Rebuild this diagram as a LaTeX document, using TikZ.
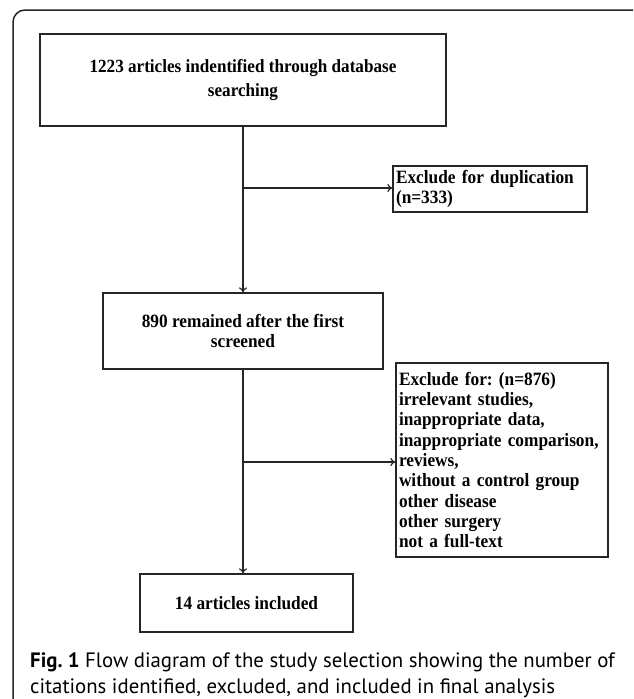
\documentclass[tikz,border=0pt]{standalone}
\usepackage{fontspec}
\setmainfont{Liberation Serif}
\newfontfamily\boxfont[FakeStretch=0.92]{Liberation Serif}
\newfontfamily\capfont{PT Sans}
\usetikzlibrary{arrows.meta}
\hyphenpenalty=10000
\exhyphenpenalty=10000
\frenchspacing
\tikzset{
  box/.style={draw=black!85, line width=1.3pt, rectangle, inner sep=0pt, font=\boxfont\bfseries\fontsize{18.8}{20.3}\selectfont},
  exbox/.style={box, align=left},
  arr/.style={draw=black!85, line width=1.2pt, -{To[length=5pt,width=8pt]}},
}
\begin{document}
\begin{tikzpicture}[x=1pt,y=-1pt]
\useasboundingbox (0,0) rectangle (633,699);
\begin{scope}
\clip (0,0) rectangle (633,699);
\draw[line width=1.5pt, black!85, rounded corners=12pt] (13,10) rectangle (648,740);
\end{scope}
% main boxes
\node[box, minimum width=406pt, minimum height=92pt, align=center, font=\boxfont\bfseries\fontsize{18.6}{24}\selectfont] (b1) at (243,80) {1223 articles indentified through database\\searching};
\node[box, minimum width=280pt, minimum height=76pt, align=center, font=\boxfont\bfseries\fontsize{18.8}{20.5}\selectfont] (b2) at (243,331) {890 remained after the first\\screened};
\node[box, minimum width=213pt, minimum height=58pt, align=center] (b3) at (246.5,603) {14 articles included};
% exclusion boxes
\node[exbox, minimum width=194pt, minimum height=46pt, text width=188pt] (e1) at (490,189) {Exclude for duplication\\(n=333)};
\node[exbox, minimum width=212pt, minimum height=194pt, text width=206pt] (e2) at (502,460) {Exclude for: (n=876)\\irrelevant studies,\\inappropriate data,\\inappropriate comparison,\\reviews,\\without a control group\\other disease\\other surgery\\not a full-text};
% connectors
\coordinate (j1) at (243,188);
\coordinate (j2) at (243,462);
\draw[arr] (b1.south) -- (b2.north);
\draw[arr] (b2.south) -- (b3.north -| b2.south);
\draw[arr] (j1) -- (j1 -| e1.west);
\draw[arr] (j2) -- (j2 -| e2.west);
% caption
\node[anchor=west, inner sep=0pt, align=left, font=\capfont\fontsize{20.8}{26}\selectfont] (cap) at (30,675) {\textbf{Fig. 1} Flow diagram of the study selection showing the number of\\citations identified, excluded, and included in final analysis};
\end{tikzpicture}
\end{document}
